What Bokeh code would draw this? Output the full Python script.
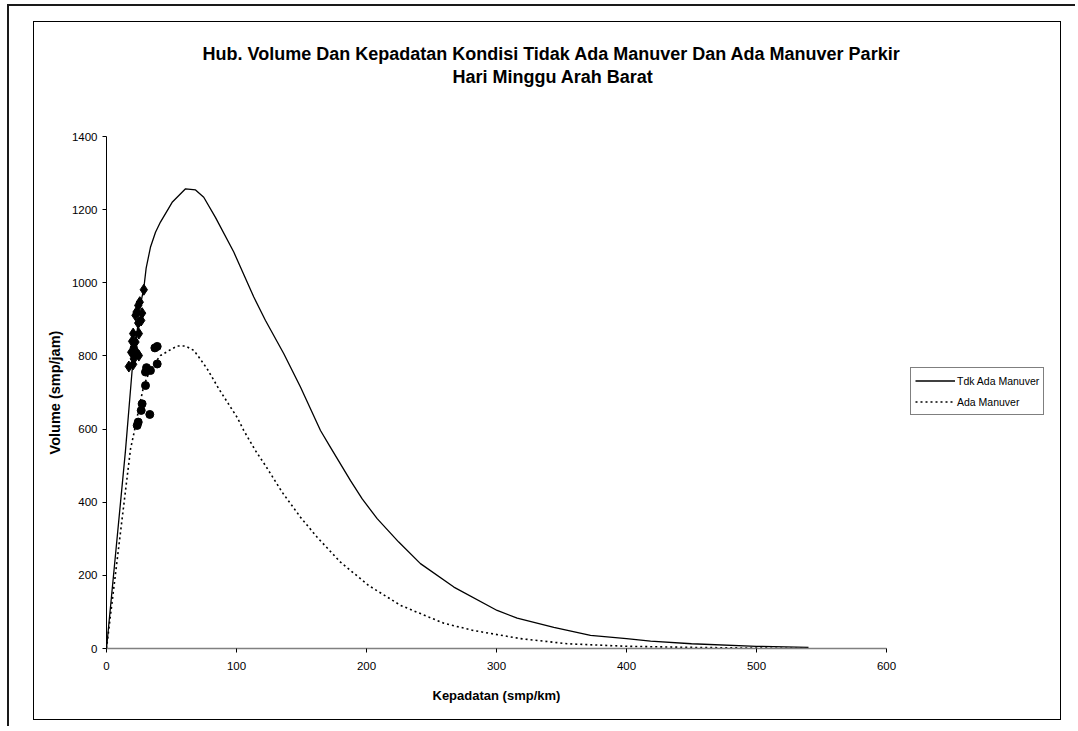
from bokeh.plotting import figure
from bokeh.layouts import column
from bokeh.models import Range1d, FixedTicker, Legend, LegendItem, Title
from bokeh.embed import file_html
from bokeh.resources import INLINE

# ---------------- data ----------------
title_line1 = "Hub. Volume Dan Kepadatan Kondisi Tidak Ada Manuver Dan Ada Manuver Parkir"
title_line2 = "Hari Minggu Arah Barat"
x_label = "Kepadatan (smp/km)"
y_label = "Volume (smp/jam)"
series_names = ["Tdk Ada Manuver", "Ada Manuver"]
x_ticks = [0, 100, 200, 300, 400, 500, 600]
y_ticks = [0, 200, 400, 600, 800, 1000, 1200, 1400]

tdk_density = [0, 14.6, 19.7, 26.2, 28.7, 30.5, 33.8, 37.7, 41.5, 50.5, 60.8, 68.5,
               74.8, 83.8, 97.9, 113.3, 122.3, 136.4, 149.2, 164.6, 172.3, 187.7,
               196.7, 208.2, 224.8, 241.5, 267.2, 300.5, 315.9, 344.1, 372.3,
               400, 418.5, 450, 500, 540]
tdk_volume = [0, 541, 760, 942, 985, 1040, 1097, 1138, 1166, 1220, 1257, 1254,
              1234, 1179, 1084, 961, 897, 806, 715, 596, 550, 459,
              409, 355, 291, 232, 168, 104, 83, 58, 36,
              27, 20, 13, 6, 3]

ada_density = [0, 18.5, 21, 26.2, 28.7, 34, 41.5, 49.2, 54.4, 60.8, 67.2, 71,
               77.4, 86.4, 95.4, 100.5, 105.6, 114.6, 122.3, 135, 149.2, 162.1,
               180, 201.8, 226.2, 259.5, 282.6, 318.5, 354.4, 400, 450, 500, 540]
ada_volume = [0, 546, 587, 678, 719, 765, 801, 817, 827, 827, 815, 797,
              765, 710, 660, 632, 596, 541, 500, 428, 359, 304,
              236, 172, 118, 69, 49, 27, 13, 6, 3, 1, 0.5]

obs_tdk_density = [28.7, 25.6, 24.4, 23.1, 27.4, 22.3, 26.7, 24.4, 20.5, 24.9,
                   19.7, 22.3, 21.0, 19.0, 23.6, 24.9, 21.0, 17.2, 20.5]
obs_tdk_volume = [981, 947, 938, 920, 917, 911, 897, 890, 861, 861,
                  840, 838, 824, 810, 807, 801, 792, 771, 777]

obs_ada_density = [37.2, 39.0, 39.0, 30.8, 33.8, 30.0, 30.0, 27.4, 26.7, 33.3, 24.4, 23.6]
obs_ada_volume = [822, 826, 778, 768, 760, 756, 719, 669, 651, 640, 619, 610]

FONT = "Liberation Sans"

# ---------------- layout geometry ----------------
W, H = 1028, 699
B_LEFT, B_RIGHT, B_TOP, B_BOTTOM = 72, 6, 114, 73
AXIS_PX = 780                     # pixels used by x = 0..600
frame_w = W - B_LEFT - B_RIGHT
x_end = x_ticks[-1] * frame_w / AXIS_PX   # frame extends right to hold legend

p = figure(width=W, height=H, output_backend="svg", toolbar_location=None,
           title=None, x_range=Range1d(0, x_end), y_range=Range1d(0, 1400),
           min_border_left=B_LEFT, min_border_right=B_RIGHT,
           min_border_top=B_TOP, min_border_bottom=B_BOTTOM,
           outline_line_color=None,
           background_fill_color="white", border_fill_color="white",
           margin=(15, 0, 0, 24),
           styles={"border": "1px solid #000000"})
p.xgrid.visible = False
p.ygrid.visible = False

# axes
p.xaxis.ticker = FixedTicker(ticks=x_ticks)
p.yaxis.ticker = FixedTicker(ticks=y_ticks)
p.xaxis.bounds = (x_ticks[0], x_ticks[-1])
p.xaxis.minor_tick_line_color = None
p.yaxis.minor_tick_line_color = None
for ax in (p.xaxis[0], p.yaxis[0]):
    ax.major_tick_in = 0
    ax.major_tick_out = 4
    ax.major_label_text_font = FONT
    ax.major_label_text_font_size = "11.5px"
    ax.major_label_text_color = "black"
    ax.axis_label_text_font = FONT
    ax.axis_label_text_font_style = "bold"
    ax.axis_label_text_color = "black"
    ax.major_tick_line_color = "black"

p.xaxis.axis_line_color = "#808080"
p.xaxis.axis_line_width = 1.5
p.yaxis.axis_line_color = "black"
p.xaxis.major_label_standoff = 9
p.yaxis.major_label_standoff = 5
p.yaxis.axis_label = y_label
p.yaxis.axis_label_text_font_size = "14.5px"
p.yaxis.axis_label_standoff = 6

# x axis title, centred under the 0..600 axis (frame is wider for the legend)
p.add_layout(Title(text=x_label, align="left", offset=326, standoff=30,
                   vertical_align="top",
                   text_font=FONT, text_font_style="bold",
                   text_font_size="13px", text_color="black"), "below")

# series
r1 = p.line(tdk_density, tdk_volume, line_color="black", line_width=1.3)
r2 = p.line(ada_density, ada_volume, line_color="black", line_width=1.6,
            line_dash="2 3")
p.scatter(obs_tdk_density, obs_tdk_volume, marker="diamond", size=11,
          color="black")
p.scatter(obs_ada_density, obs_ada_volume, marker="circle", size=8,
          color="black")

legend = Legend(items=[LegendItem(label=series_names[0], renderers=[r1]),
                       LegendItem(label=series_names[1], renderers=[r2])],
                location=(804, 233), orientation="vertical",
                padding=4, spacing=4, margin=0,
                glyph_width=40, glyph_height=17, label_height=17,
                label_standoff=2,
                label_text_font=FONT, label_text_font_size="10.5px",
                label_text_color="black",
                border_line_color="black", border_line_width=1,
                background_fill_color="white", background_fill_alpha=1)
p.add_layout(legend)

# title: two lines stacked above the plot area (spacer nearest the frame)
p.add_layout(Title(text=" ", text_font_size="18px", standoff=28), "above")
p.add_layout(Title(text=title_line2, align="left", offset=346, standoff=0,
                   text_font=FONT, text_font_style="bold",
                   text_font_size="18px", text_color="black"), "above")
p.add_layout(Title(text=title_line1, align="left", offset=96, standoff=2,
                   text_font=FONT, text_font_style="bold",
                   text_font_size="18px", text_color="black"), "above")

root = column(p, margin=(4, 0, 0, 7), width=1068, height=722,
              styles={"border-left": "2px solid #1a1a1a",
                      "border-top": "2px solid #1a1a1a"})

open("out.html", "w").write(file_html(root, INLINE))
